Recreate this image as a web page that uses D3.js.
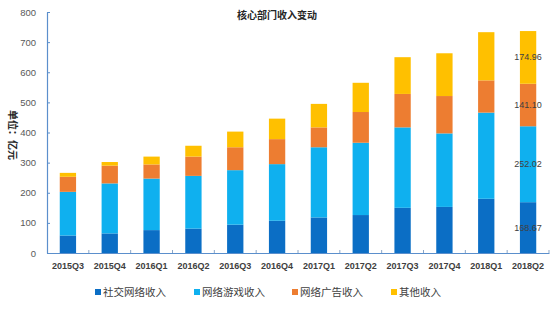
<!DOCTYPE html>
<html lang="zh">
<head>
  <meta charset="UTF-8" />
  <title>核心部门收入变动</title>
  <style>
    body { margin: 0; background: #fff; }
    svg { display: block; font-family: "Liberation Sans", Arial, "Noto Sans CJK SC", sans-serif; }
    .title { font-size: 10px; font-weight: bold; fill: #262626; }
    .ylabel { font-size: 10px; font-weight: bold; fill: #262626; }
    .y-axis text { font-size: 9.5px; fill: #595959; }
    .x-axis text { font-size: 9px; font-weight: bold; fill: #404040; }
    .legend text { font-size: 10.5px; fill: #404040; }
    .val { font-size: 9px; fill: #404040; }
  </style>
</head>
<body>
  <svg width="557" height="321"></svg>
  <script src="https://d3js.org/d3.v7.min.js"></script>
  <script>
    // 季度
    const quarters = ["2015Q3", "2015Q4", "2016Q1", "2016Q2", "2016Q3", "2016Q4",
                      "2017Q1", "2017Q2", "2017Q3", "2017Q4", "2018Q1", "2018Q2"];
    // 各部门收入（亿元）
    const social = [58, 65, 76, 81, 94, 107, 118, 126, 150, 153, 180, 168.67];
    const games  = [145, 166, 171, 175, 181, 188, 233, 240, 267, 244, 286, 252.02];
    const ads    = [50, 59, 47, 64, 76, 83, 66, 102, 111, 124, 107, 141.10];
    const others = [13, 12, 26, 36, 52, 68, 78, 97, 122, 142, 160, 174.96];

    const seriesNames = ["社交网络收入", "网络游戏收入", "网络广告收入", "其他收入"];
    const colors = ["#0b6ec5", "#0fb0ef", "#ed7d31", "#ffc000"];
    const yTicks = [0, 100, 200, 300, 400, 500, 600, 700, 800];

    const svg = d3.select("svg");
    const margin = { top: 12, left: 47, right: 8, bottom: 68 };
    const plotRight = 549, plotBottom = 253;

    const table = quarters.map((q, i) => ({
      q, s0: social[i], s1: games[i], s2: ads[i], s3: others[i]
    }));
    const keys = ["s0", "s1", "s2", "s3"];
    const stacked = d3.stack().keys(keys)(table);

    const x = d3.scaleBand().domain(quarters).range([margin.left, plotRight]).padding(0);
    const y = d3.scaleLinear().domain([0, 800]).range([plotBottom, margin.top]);
    const barW = x.bandwidth() * 0.39;

    // 标题
    svg.append("text").attr("class", "title")
      .attr("x", 277).attr("y", 19).attr("text-anchor", "middle")
      .text("核心部门收入变动");

    // 纵轴标题
    svg.append("text").attr("class", "ylabel")
      .attr("transform", "translate(9,135) rotate(90)")
      .attr("text-anchor", "middle")
      .text("单位：亿元");

    // 柱
    svg.append("g").selectAll("g")
      .data(stacked)
      .join("g")
      .attr("fill", (d, i) => colors[i])
      .selectAll("rect")
      .data(d => d)
      .join("rect")
      .attr("x", d => x(d.data.q) + (x.bandwidth() - barW) / 2)
      .attr("width", barW)
      .attr("y", d => y(d[1]))
      .attr("height", d => y(d[0]) - y(d[1]));

    // 最后一季度数值标签
    const last = quarters.length - 1;
    svg.append("g").selectAll("text")
      .data(stacked)
      .join("text")
      .attr("class", "val")
      .attr("x", x(quarters[last]) + x.bandwidth() / 2)
      .attr("y", d => (y(d[last][0]) + y(d[last][1])) / 2 + 3)
      .attr("text-anchor", "middle")
      .text(d => d3.format(".2f")(d[last][1] - d[last][0]));

    // Y 轴
    const yAxis = svg.append("g").attr("class", "y-axis")
      .attr("transform", `translate(${margin.left},0)`)
      .call(d3.axisLeft(y).tickValues(yTicks).tickSize(0).tickPadding(11));
    yAxis.select(".domain").attr("stroke", "#5b8fcc").attr("stroke-width", 1.2);
    yAxis.selectAll(".tick").append("line")
      .attr("x1", 0).attr("x2", 3).attr("stroke", "#5b8fcc");

    // X 轴
    const xAxis = svg.append("g").attr("class", "x-axis")
      .attr("transform", `translate(0,${plotBottom})`)
      .call(d3.axisBottom(x).tickSize(0).tickPadding(10));
    xAxis.select(".domain").attr("stroke", "#5b8fcc").attr("stroke-width", 1.2);
    xAxis.selectAll(".tick").append("line")
      .attr("x1", x.bandwidth() / 2).attr("x2", x.bandwidth() / 2)
      .attr("y1", 0).attr("y2", -3).attr("stroke", "#8aa6c8");

    // 图例
    const legendX = [95, 194, 292, 391];
    const legend = svg.append("g").attr("class", "legend")
      .selectAll("g")
      .data(seriesNames)
      .join("g")
      .attr("transform", (d, i) => `translate(${legendX[i]},292)`);
    legend.append("rect")
      .attr("x", 0).attr("y", -3).attr("width", 6).attr("height", 6)
      .attr("fill", (d, i) => colors[i]);
    legend.append("text")
      .attr("x", 8).attr("y", 4)
      .text(d => d);
  </script>
</body>
</html>
